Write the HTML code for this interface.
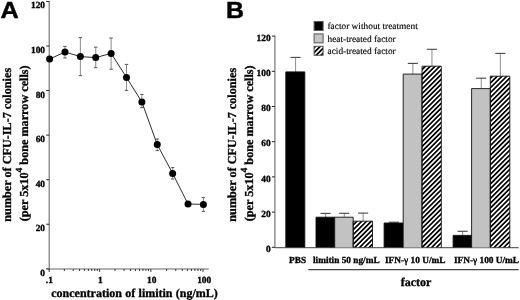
<!DOCTYPE html>
<html><head><meta charset="utf-8"><title>limitin figure</title>
<style>html,body{margin:0;padding:0;background:#fff;width:520px;height:300px;overflow:hidden}</style>
</head><body>
<svg width="520" height="300" viewBox="0 0 520 300" style="display:block;filter:blur(0.3px);text-rendering:geometricPrecision">
<defs><pattern id="hat" patternUnits="userSpaceOnUse" width="3.4" height="3.4" patternTransform="rotate(45)"><rect x="0" y="0" width="1.7" height="3.4" fill="#000"/></pattern></defs>
<rect width="520" height="300" fill="#fff"/>
<text transform="translate(0.5,18.4) scale(1.08,1)" style="font-family:&quot;Liberation Sans&quot;,sans-serif;font-weight:bold;font-size:23.4px;stroke:#000;stroke-width:0.45px">A</text>
<line x1="49.2" y1="0.9399999999999977" x2="49.2" y2="269.7" stroke="#777" stroke-width="1.2"/>
<line x1="46.2" y1="268.80" x2="49.2" y2="268.80" stroke="#222" stroke-width="1"/>
<text x="45.0" y="275.80" text-anchor="end" style="font-family:&quot;Liberation Serif&quot;,serif;stroke:#000;stroke-width:0.32px;font-weight:bold;font-size:9.4px">0</text>
<line x1="46.2" y1="224.24" x2="49.2" y2="224.24" stroke="#222" stroke-width="1"/>
<text x="45.0" y="231.24" text-anchor="end" style="font-family:&quot;Liberation Serif&quot;,serif;stroke:#000;stroke-width:0.32px;font-weight:bold;font-size:9.4px">20</text>
<line x1="46.2" y1="179.68" x2="49.2" y2="179.68" stroke="#222" stroke-width="1"/>
<text x="45.0" y="186.68" text-anchor="end" style="font-family:&quot;Liberation Serif&quot;,serif;stroke:#000;stroke-width:0.32px;font-weight:bold;font-size:9.4px">40</text>
<line x1="46.2" y1="135.12" x2="49.2" y2="135.12" stroke="#222" stroke-width="1"/>
<text x="45.0" y="142.12" text-anchor="end" style="font-family:&quot;Liberation Serif&quot;,serif;stroke:#000;stroke-width:0.32px;font-weight:bold;font-size:9.4px">60</text>
<line x1="46.2" y1="90.56" x2="49.2" y2="90.56" stroke="#222" stroke-width="1"/>
<text x="45.0" y="97.56" text-anchor="end" style="font-family:&quot;Liberation Serif&quot;,serif;stroke:#000;stroke-width:0.32px;font-weight:bold;font-size:9.4px">80</text>
<line x1="46.2" y1="46.00" x2="49.2" y2="46.00" stroke="#222" stroke-width="1"/>
<text x="45.0" y="53.00" text-anchor="end" style="font-family:&quot;Liberation Serif&quot;,serif;stroke:#000;stroke-width:0.32px;font-weight:bold;font-size:9.4px">100</text>
<line x1="46.2" y1="1.44" x2="49.2" y2="1.44" stroke="#222" stroke-width="1"/>
<text x="45.0" y="8.44" text-anchor="end" style="font-family:&quot;Liberation Serif&quot;,serif;stroke:#000;stroke-width:0.32px;font-weight:bold;font-size:9.4px">120</text>
<line x1="46.2" y1="269.0" x2="208.8" y2="269.0" stroke="#666" stroke-width="1.2"/>
<line x1="49.20" y1="269.0" x2="49.20" y2="272.0" stroke="#222" stroke-width="0.9"/>
<line x1="64.37" y1="269.0" x2="64.37" y2="271.0" stroke="#222" stroke-width="0.9"/>
<line x1="73.25" y1="269.0" x2="73.25" y2="271.0" stroke="#222" stroke-width="0.9"/>
<line x1="79.54" y1="269.0" x2="79.54" y2="271.0" stroke="#222" stroke-width="0.9"/>
<line x1="84.43" y1="269.0" x2="84.43" y2="271.0" stroke="#222" stroke-width="0.9"/>
<line x1="88.42" y1="269.0" x2="88.42" y2="271.0" stroke="#222" stroke-width="0.9"/>
<line x1="91.79" y1="269.0" x2="91.79" y2="271.0" stroke="#222" stroke-width="0.9"/>
<line x1="94.72" y1="269.0" x2="94.72" y2="271.0" stroke="#222" stroke-width="0.9"/>
<line x1="97.29" y1="269.0" x2="97.29" y2="271.0" stroke="#222" stroke-width="0.9"/>
<line x1="99.60" y1="269.0" x2="99.60" y2="272.0" stroke="#222" stroke-width="0.9"/>
<line x1="115.04" y1="269.0" x2="115.04" y2="271.0" stroke="#222" stroke-width="0.9"/>
<line x1="124.08" y1="269.0" x2="124.08" y2="271.0" stroke="#222" stroke-width="0.9"/>
<line x1="130.49" y1="269.0" x2="130.49" y2="271.0" stroke="#222" stroke-width="0.9"/>
<line x1="135.46" y1="269.0" x2="135.46" y2="271.0" stroke="#222" stroke-width="0.9"/>
<line x1="139.52" y1="269.0" x2="139.52" y2="271.0" stroke="#222" stroke-width="0.9"/>
<line x1="142.95" y1="269.0" x2="142.95" y2="271.0" stroke="#222" stroke-width="0.9"/>
<line x1="145.93" y1="269.0" x2="145.93" y2="271.0" stroke="#222" stroke-width="0.9"/>
<line x1="148.55" y1="269.0" x2="148.55" y2="271.0" stroke="#222" stroke-width="0.9"/>
<line x1="150.90" y1="269.0" x2="150.90" y2="272.0" stroke="#222" stroke-width="0.9"/>
<line x1="166.58" y1="269.0" x2="166.58" y2="271.0" stroke="#222" stroke-width="0.9"/>
<line x1="175.76" y1="269.0" x2="175.76" y2="271.0" stroke="#222" stroke-width="0.9"/>
<line x1="182.27" y1="269.0" x2="182.27" y2="271.0" stroke="#222" stroke-width="0.9"/>
<line x1="187.32" y1="269.0" x2="187.32" y2="271.0" stroke="#222" stroke-width="0.9"/>
<line x1="191.44" y1="269.0" x2="191.44" y2="271.0" stroke="#222" stroke-width="0.9"/>
<line x1="194.93" y1="269.0" x2="194.93" y2="271.0" stroke="#222" stroke-width="0.9"/>
<line x1="197.95" y1="269.0" x2="197.95" y2="271.0" stroke="#222" stroke-width="0.9"/>
<line x1="200.62" y1="269.0" x2="200.62" y2="271.0" stroke="#222" stroke-width="0.9"/>
<line x1="203.00" y1="269.0" x2="203.00" y2="272.0" stroke="#222" stroke-width="0.9"/>
<text x="49.30" y="282.9" text-anchor="middle" style="font-family:&quot;Liberation Serif&quot;,serif;stroke:#000;stroke-width:0.32px;font-weight:bold;font-size:9.4px">.1</text>
<text x="100.40" y="282.9" text-anchor="middle" style="font-family:&quot;Liberation Serif&quot;,serif;stroke:#000;stroke-width:0.32px;font-weight:bold;font-size:9.4px">1</text>
<text x="151.80" y="282.9" text-anchor="middle" style="font-family:&quot;Liberation Serif&quot;,serif;stroke:#000;stroke-width:0.32px;font-weight:bold;font-size:9.4px">10</text>
<text x="204.20" y="282.9" text-anchor="middle" style="font-family:&quot;Liberation Serif&quot;,serif;stroke:#000;stroke-width:0.32px;font-weight:bold;font-size:9.4px">100</text>
<text x="51.3" y="296.5" style="font-family:&quot;Liberation Serif&quot;,serif;stroke:#000;stroke-width:0.32px;font-weight:bold;font-size:12px;word-spacing:0.3px">concentration of limitin (ng/mL)</text>
<line x1="64.98" y1="46.4" x2="64.98" y2="58" stroke="#8a8a8a" stroke-width="1"/>
<line x1="63.28" y1="46.4" x2="66.68" y2="46.4" stroke="#555" stroke-width="1"/>
<line x1="63.28" y1="58" x2="66.68" y2="58" stroke="#555" stroke-width="1"/>
<line x1="80.36" y1="37.6" x2="80.36" y2="75.6" stroke="#8a8a8a" stroke-width="1"/>
<line x1="78.66" y1="37.6" x2="82.06" y2="37.6" stroke="#555" stroke-width="1"/>
<line x1="78.66" y1="75.6" x2="82.06" y2="75.6" stroke="#555" stroke-width="1"/>
<line x1="95.74" y1="47.2" x2="95.74" y2="67.6" stroke="#8a8a8a" stroke-width="1"/>
<line x1="94.04" y1="47.2" x2="97.44" y2="47.2" stroke="#555" stroke-width="1"/>
<line x1="94.04" y1="67.6" x2="97.44" y2="67.6" stroke="#555" stroke-width="1"/>
<line x1="111.12" y1="38" x2="111.12" y2="69.2" stroke="#8a8a8a" stroke-width="1"/>
<line x1="109.42" y1="38" x2="112.82" y2="38" stroke="#555" stroke-width="1"/>
<line x1="109.42" y1="69.2" x2="112.82" y2="69.2" stroke="#555" stroke-width="1"/>
<line x1="126.50" y1="64.4" x2="126.50" y2="90.4" stroke="#8a8a8a" stroke-width="1"/>
<line x1="124.80" y1="64.4" x2="128.20" y2="64.4" stroke="#555" stroke-width="1"/>
<line x1="124.80" y1="90.4" x2="128.20" y2="90.4" stroke="#555" stroke-width="1"/>
<line x1="141.88" y1="94.4" x2="141.88" y2="107.6" stroke="#8a8a8a" stroke-width="1"/>
<line x1="140.18" y1="94.4" x2="143.58" y2="94.4" stroke="#555" stroke-width="1"/>
<line x1="140.18" y1="107.6" x2="143.58" y2="107.6" stroke="#555" stroke-width="1"/>
<line x1="157.26" y1="139" x2="157.26" y2="150.6" stroke="#8a8a8a" stroke-width="1"/>
<line x1="155.56" y1="139" x2="158.96" y2="139" stroke="#555" stroke-width="1"/>
<line x1="155.56" y1="150.6" x2="158.96" y2="150.6" stroke="#555" stroke-width="1"/>
<line x1="172.64" y1="167.6" x2="172.64" y2="179" stroke="#8a8a8a" stroke-width="1"/>
<line x1="170.94" y1="167.6" x2="174.34" y2="167.6" stroke="#555" stroke-width="1"/>
<line x1="170.94" y1="179" x2="174.34" y2="179" stroke="#555" stroke-width="1"/>
<line x1="203.40" y1="197.6" x2="203.40" y2="211.4" stroke="#8a8a8a" stroke-width="1"/>
<line x1="201.70" y1="197.6" x2="205.10" y2="197.6" stroke="#555" stroke-width="1"/>
<line x1="201.70" y1="211.4" x2="205.10" y2="211.4" stroke="#555" stroke-width="1"/>
<polyline points="49.60,59 64.98,52 80.36,56.6 95.74,57.6 111.12,53.4 126.50,77.4 141.88,102 157.26,144.6 172.64,173.4 188.02,204 203.40,204.4" fill="none" stroke="#222" stroke-width="0.95"/>
<circle cx="49.60" cy="59" r="3.5" fill="#000"/>
<circle cx="64.98" cy="52" r="3.5" fill="#000"/>
<circle cx="80.36" cy="56.6" r="3.5" fill="#000"/>
<circle cx="95.74" cy="57.6" r="3.5" fill="#000"/>
<circle cx="111.12" cy="53.4" r="3.5" fill="#000"/>
<circle cx="126.50" cy="77.4" r="3.5" fill="#000"/>
<circle cx="141.88" cy="102" r="3.5" fill="#000"/>
<circle cx="157.26" cy="144.6" r="3.5" fill="#000"/>
<circle cx="172.64" cy="173.4" r="3.5" fill="#000"/>
<circle cx="188.02" cy="204" r="3.5" fill="#000"/>
<circle cx="203.40" cy="204.4" r="3.5" fill="#000"/>
<text transform="translate(10.6,144.75) rotate(-90)" text-anchor="middle" style="font-family:&quot;Liberation Serif&quot;,serif;stroke:#000;stroke-width:0.32px;font-weight:bold;font-size:12.2px">number of CFU-IL-7 colonies</text>
<text transform="translate(27.5,143.3) rotate(-90)" text-anchor="middle" style="font-family:&quot;Liberation Serif&quot;,serif;stroke:#000;stroke-width:0.32px;font-weight:bold;font-size:12.2px">(per 5x10<tspan dy="-5.6" style="font-size:9.4px">4</tspan><tspan dy="5.6"> bone marrow cells)</tspan></text>
<text transform="translate(225.9,17.6) scale(1.06,1)" style="font-family:&quot;Liberation Sans&quot;,sans-serif;font-weight:bold;font-size:23.4px;stroke:#000;stroke-width:0.45px">B</text>
<line x1="274.9" y1="35.60000000000002" x2="274.9" y2="247.9" stroke="#777" stroke-width="1.2"/>
<line x1="271.9" y1="247.30" x2="274.9" y2="247.30" stroke="#222" stroke-width="1"/>
<text x="270.6" y="252.00" text-anchor="end" style="font-family:&quot;Liberation Serif&quot;,serif;stroke:#000;stroke-width:0.32px;font-weight:bold;font-size:9.4px">0</text>
<line x1="271.9" y1="212.10" x2="274.9" y2="212.10" stroke="#222" stroke-width="1"/>
<text x="270.6" y="216.80" text-anchor="end" style="font-family:&quot;Liberation Serif&quot;,serif;stroke:#000;stroke-width:0.32px;font-weight:bold;font-size:9.4px">20</text>
<line x1="271.9" y1="176.90" x2="274.9" y2="176.90" stroke="#222" stroke-width="1"/>
<text x="270.6" y="181.60" text-anchor="end" style="font-family:&quot;Liberation Serif&quot;,serif;stroke:#000;stroke-width:0.32px;font-weight:bold;font-size:9.4px">40</text>
<line x1="271.9" y1="141.70" x2="274.9" y2="141.70" stroke="#222" stroke-width="1"/>
<text x="270.6" y="146.40" text-anchor="end" style="font-family:&quot;Liberation Serif&quot;,serif;stroke:#000;stroke-width:0.32px;font-weight:bold;font-size:9.4px">60</text>
<line x1="271.9" y1="106.50" x2="274.9" y2="106.50" stroke="#222" stroke-width="1"/>
<text x="270.6" y="111.20" text-anchor="end" style="font-family:&quot;Liberation Serif&quot;,serif;stroke:#000;stroke-width:0.32px;font-weight:bold;font-size:9.4px">80</text>
<line x1="271.9" y1="71.30" x2="274.9" y2="71.30" stroke="#222" stroke-width="1"/>
<text x="270.6" y="76.00" text-anchor="end" style="font-family:&quot;Liberation Serif&quot;,serif;stroke:#000;stroke-width:0.32px;font-weight:bold;font-size:9.4px">100</text>
<line x1="271.9" y1="36.10" x2="274.9" y2="36.10" stroke="#222" stroke-width="1"/>
<text x="270.6" y="40.80" text-anchor="end" style="font-family:&quot;Liberation Serif&quot;,serif;stroke:#000;stroke-width:0.32px;font-weight:bold;font-size:9.4px">120</text>
<text transform="translate(236.1,144.75) rotate(-90)" text-anchor="middle" style="font-family:&quot;Liberation Serif&quot;,serif;stroke:#000;stroke-width:0.32px;font-weight:bold;font-size:12.2px">number of CFU-IL-7 colonies</text>
<text transform="translate(252.8,143.3) rotate(-90)" text-anchor="middle" style="font-family:&quot;Liberation Serif&quot;,serif;stroke:#000;stroke-width:0.32px;font-weight:bold;font-size:12.2px">(per 5x10<tspan dy="-5.6" style="font-size:9.4px">4</tspan><tspan dy="5.6"> bone marrow cells)</tspan></text>
<line x1="274.9" y1="247.6" x2="518.7" y2="247.6" stroke="#666" stroke-width="1.2"/>
<line x1="295.60" y1="57.4" x2="295.60" y2="71.9" stroke="#8c8c8c" stroke-width="1"/>
<line x1="290.50" y1="57.4" x2="300.60" y2="57.4" stroke="#444" stroke-width="1.1"/>
<line x1="325.65" y1="213.4" x2="325.65" y2="217.2" stroke="#8c8c8c" stroke-width="1"/>
<line x1="320.55" y1="213.4" x2="330.65" y2="213.4" stroke="#444" stroke-width="1.1"/>
<line x1="344.25" y1="213.3" x2="344.25" y2="217.2" stroke="#8c8c8c" stroke-width="1"/>
<line x1="339.15" y1="213.3" x2="349.25" y2="213.3" stroke="#444" stroke-width="1.1"/>
<line x1="363.15" y1="213.1" x2="363.15" y2="221.2" stroke="#8c8c8c" stroke-width="1"/>
<line x1="358.05" y1="213.1" x2="368.15" y2="213.1" stroke="#444" stroke-width="1.1"/>
<line x1="393.95" y1="222.2" x2="393.95" y2="223.0" stroke="#8c8c8c" stroke-width="1"/>
<line x1="388.85" y1="222.2" x2="398.95" y2="222.2" stroke="#444" stroke-width="1.1"/>
<line x1="412.90" y1="63.4" x2="412.90" y2="74.1" stroke="#8c8c8c" stroke-width="1"/>
<line x1="407.80" y1="63.4" x2="417.90" y2="63.4" stroke="#444" stroke-width="1.1"/>
<line x1="431.95" y1="49.3" x2="431.95" y2="66.2" stroke="#8c8c8c" stroke-width="1"/>
<line x1="426.85" y1="49.3" x2="436.95" y2="49.3" stroke="#444" stroke-width="1.1"/>
<line x1="462.65" y1="231.3" x2="462.65" y2="235.4" stroke="#8c8c8c" stroke-width="1"/>
<line x1="457.55" y1="231.3" x2="467.65" y2="231.3" stroke="#444" stroke-width="1.1"/>
<line x1="481.25" y1="78.2" x2="481.25" y2="88.6" stroke="#8c8c8c" stroke-width="1"/>
<line x1="476.15" y1="78.2" x2="486.25" y2="78.2" stroke="#444" stroke-width="1.1"/>
<line x1="500.35" y1="53.4" x2="500.35" y2="76.2" stroke="#8c8c8c" stroke-width="1"/>
<line x1="495.25" y1="53.4" x2="505.35" y2="53.4" stroke="#444" stroke-width="1.1"/>
<rect x="285.80" y="71.90" width="19.00" height="175.50" fill="#000"/>
<path d="M285.80 247.4V71.90H304.80V247.4" fill="none" stroke="#111" stroke-width="0.9"/>
<rect x="316.00" y="217.20" width="18.70" height="30.20" fill="#000"/>
<path d="M316.00 247.4V217.20H334.70V247.4" fill="none" stroke="#111" stroke-width="0.9"/>
<rect x="334.70" y="217.20" width="18.50" height="30.20" fill="#c2c2c2"/>
<path d="M334.70 247.4V217.20H353.20V247.4" fill="none" stroke="#111" stroke-width="0.9"/>
<rect x="353.20" y="221.20" width="19.30" height="26.20" fill="url(#hat)"/>
<path d="M353.20 247.4V221.20H372.50V247.4" fill="none" stroke="#111" stroke-width="0.9"/>
<rect x="384.10" y="223.00" width="19.10" height="24.40" fill="#000"/>
<path d="M384.10 247.4V223.00H403.20V247.4" fill="none" stroke="#111" stroke-width="0.9"/>
<rect x="403.20" y="74.10" width="18.80" height="173.30" fill="#c2c2c2"/>
<path d="M403.20 247.4V74.10H422.00V247.4" fill="none" stroke="#111" stroke-width="0.9"/>
<rect x="422.00" y="66.20" width="19.30" height="181.20" fill="url(#hat)"/>
<path d="M422.00 247.4V66.20H441.30V247.4" fill="none" stroke="#111" stroke-width="0.9"/>
<rect x="453.10" y="235.40" width="18.50" height="12.00" fill="#000"/>
<path d="M453.10 247.4V235.40H471.60V247.4" fill="none" stroke="#111" stroke-width="0.9"/>
<rect x="471.60" y="88.60" width="18.70" height="158.80" fill="#c2c2c2"/>
<path d="M471.60 247.4V88.60H490.30V247.4" fill="none" stroke="#111" stroke-width="0.9"/>
<rect x="490.30" y="76.20" width="19.50" height="171.20" fill="url(#hat)"/>
<path d="M490.30 247.4V76.20H509.80V247.4" fill="none" stroke="#111" stroke-width="0.9"/>
<rect x="314.1" y="21.50" width="9" height="9" fill="#000" stroke="#555" stroke-width="1"/>
<text x="327.5" y="29.40" style="font-family:&quot;Liberation Serif&quot;,serif;stroke:#000;stroke-width:0.32px;font-size:9.35px;stroke-width:0.14px">factor without treatment</text>
<rect x="314.1" y="33.90" width="9" height="9" fill="#c4c4c4" stroke="#555" stroke-width="1"/>
<text x="327.5" y="41.50" style="font-family:&quot;Liberation Serif&quot;,serif;stroke:#000;stroke-width:0.32px;font-size:9.35px;stroke-width:0.14px">heat-treated factor</text>
<rect x="314.1" y="46.30" width="9" height="9" fill="url(#hat)" stroke="#555" stroke-width="1"/>
<text x="327.5" y="53.60" style="font-family:&quot;Liberation Serif&quot;,serif;stroke:#000;stroke-width:0.32px;font-size:9.35px;stroke-width:0.14px">acid-treated factor</text>
<text x="289" y="262.7" style="font-family:&quot;Liberation Serif&quot;,serif;stroke:#000;stroke-width:0.32px;font-weight:bold;font-size:9.3px">PBS</text>
<text x="313" y="262.7" style="font-family:&quot;Liberation Serif&quot;,serif;stroke:#000;stroke-width:0.32px;font-weight:bold;font-size:9.3px">limitin 50 ng/mL</text>
<text x="385" y="262.7" style="font-family:&quot;Liberation Serif&quot;,serif;stroke:#000;stroke-width:0.32px;font-weight:bold;font-size:9.3px">IFN-<tspan style="font-weight:normal;stroke-width:0.45px">γ</tspan> 10 U/mL</text>
<text x="454" y="262.7" style="font-family:&quot;Liberation Serif&quot;,serif;stroke:#000;stroke-width:0.32px;font-weight:bold;font-size:9.3px">IFN-<tspan style="font-weight:normal;stroke-width:0.45px">γ</tspan> 100 U/mL</text>
<line x1="308.3" y1="269.6" x2="518.7" y2="269.6" stroke="#444" stroke-width="1.1"/>
<text x="400.7" y="285.6" style="font-family:&quot;Liberation Serif&quot;,serif;stroke:#000;stroke-width:0.32px;font-weight:bold;font-size:12px">factor</text>
</svg>
</body></html>
